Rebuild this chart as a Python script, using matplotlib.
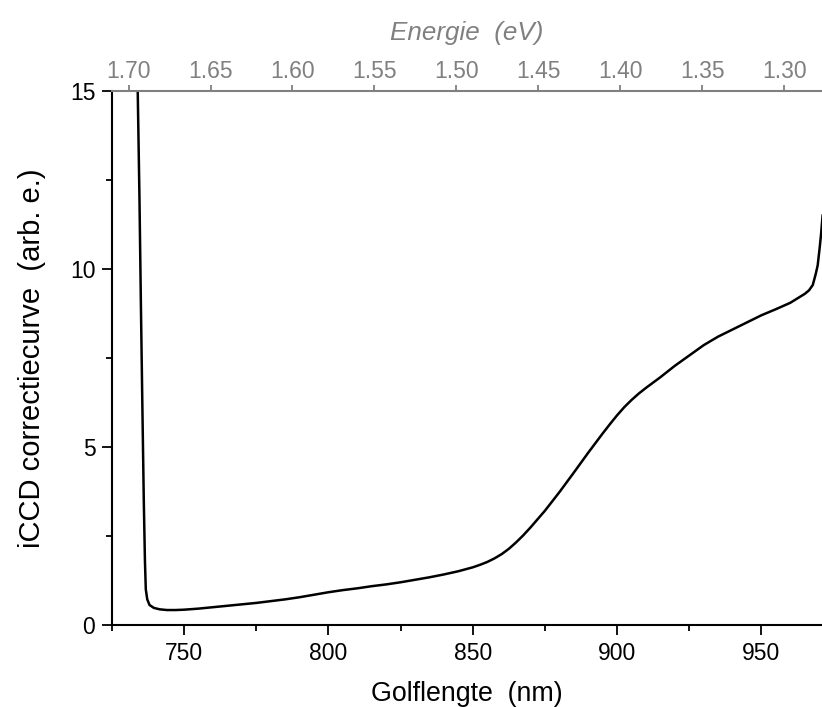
"""iCCD correction curve vs wavelength, with a linked energy axis on top."""
import matplotlib
matplotlib.use("Agg")
import matplotlib.pyplot as plt
from matplotlib.ticker import MultipleLocator, FormatStrFormatter

plt.rcParams["font.family"] = ["Liberation Sans", "DejaVu Sans"]

# --- data ------------------------------------------------------------------
wavelength = [733.6, 733.9, 734.5, 735.0, 735.5, 736.0, 736.4, 736.7, 737.2,
              738.0, 739.5, 741.5, 744, 747, 750, 755, 760, 765, 770, 775,
              780, 785, 790, 795, 800, 805, 810, 815, 820, 825, 830, 835,
              840, 845, 850, 852.5, 855, 857.5, 860, 862.5, 865, 867.5, 870,
              875, 880, 885, 890, 895, 897.5, 900, 902.5, 905, 907.5, 910,
              915, 920, 925, 930, 935, 940, 945, 950, 955, 960, 963, 965,
              966.5, 967.8, 968.8, 969.5, 970.2, 970.7, 971.2]
correction = [16.0, 15.0, 12.0, 9.0, 6.2, 3.5, 1.8, 1.0, 0.72,
              0.56, 0.48, 0.44, 0.42, 0.42, 0.43, 0.46, 0.50, 0.54, 0.58, 0.62,
              0.67, 0.72, 0.78, 0.85, 0.92, 0.98, 1.03, 1.09, 1.14, 1.20, 1.27,
              1.34, 1.42, 1.51, 1.62, 1.69, 1.77, 1.87, 1.99, 2.14, 2.32, 2.52,
              2.74, 3.21, 3.73, 4.28, 4.84, 5.38, 5.64, 5.89, 6.12, 6.32, 6.50,
              6.66, 6.96, 7.28, 7.57, 7.86, 8.10, 8.30, 8.50, 8.70, 8.87, 9.05,
              9.20, 9.30, 9.40, 9.55, 9.85, 10.1, 10.6, 11.0, 11.5]

x_ticks = [750, 800, 850, 900, 950]
y_ticks = [0, 5, 10, 15]
energy_ticks = [1.70, 1.65, 1.60, 1.55, 1.50, 1.45, 1.40, 1.35, 1.30]

HC = 1239.84  # eV nm
XMIN, XMAX = 725, 971
GREY = "#808080"

fig = plt.figure(figsize=(8.22, 7.07), dpi=100)
ax = fig.add_axes([0.1363, 0.116, 0.8637, 0.7553])

ax.plot(wavelength, correction, color="black", lw=1.8)
ax.set_xlim(XMIN, XMAX)
ax.set_ylim(0, 15)

ax.set_xticks(x_ticks)
ax.set_yticks(y_ticks)
ax.xaxis.set_minor_locator(MultipleLocator(25))
ax.yaxis.set_minor_locator(MultipleLocator(2.5))
ax.tick_params(which="major", direction="out", length=7, width=1.3,
               labelsize=16.5, pad=5)
ax.tick_params(which="minor", direction="out", length=4, width=1.3)
ax.tick_params(top=False, right=False, which="both")

for side in ("left", "bottom"):
    ax.spines[side].set_linewidth(1.5)
ax.spines["right"].set_visible(False)
ax.spines["top"].set_visible(False)

ax.set_xlabel("Golflengte  (nm)", fontsize=19.3, labelpad=12)
ax.set_ylabel("iCCD correctiecurve  (arb. e.)", fontsize=21, labelpad=17)

# --- top energy axis (linear, endpoints linked to the wavelength range) ----
top = ax.twiny()
top.set_xlim(HC / XMIN, HC / XMAX)
top.set_xticks(energy_ticks)
top.xaxis.set_major_formatter(FormatStrFormatter("%.2f"))
top.tick_params(direction="out", length=4, width=1.3, colors=GREY,
                labelsize=16.5, pad=2)
top.spines["top"].set_color(GREY)
top.spines["top"].set_linewidth(1.5)
for side in ("left", "bottom", "right"):
    top.spines[side].set_visible(False)
top.set_xlabel("Energie  (eV)", fontsize=18.7, color=GREY, style="italic",
               labelpad=14)

fig.savefig("out.png", dpi=100)
